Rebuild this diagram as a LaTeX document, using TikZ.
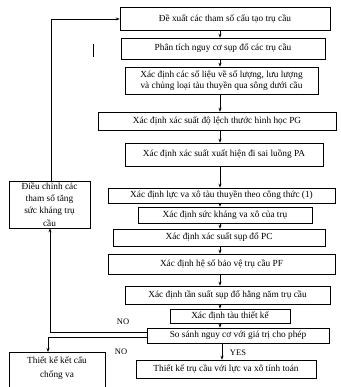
\documentclass[tikz,border=0pt]{standalone}
\usepackage{fontspec}
\setmainfont{Liberation Serif}
\usetikzlibrary{arrows.meta}
\begin{document}
\begin{tikzpicture}[x=1pt,y=-1pt,
  box/.style={draw, line width=0.6pt, inner sep=0pt, font=\fontsize{9.3}{11}\selectfont, align=center},
  lbl/.style={font=\fontsize{8.5}{10}\selectfont, inner sep=0pt},
  arr/.style={-{Stealth[length=4pt,width=3pt]}, line width=0.6pt},
  ln/.style={line width=0.6pt}]
\useasboundingbox (0,0) rectangle (340,387);
\coordinate (sp) at (220,0);
% main column
\node[box, minimum width=210pt, minimum height=23pt] (b1) at (225,18.5) {Đề xuất các tham số cấu tạo trụ cầu};
\node[box, minimum width=204pt, minimum height=21pt] (b2) at (223,48.5) {Phân tích nguy cơ sụp đổ các trụ cầu};
\node[box, minimum width=193pt, minimum height=27pt, font=\fontsize{9.3}{11}\selectfont] (b3) at (221.5,80.5) {Xác định các số liệu về số lượng, lưu lượng\\và chủng loại tàu thuyền qua sông dưới cầu};
\node[box, minimum width=238pt, minimum height=18pt] (b4) at (217,121) {Xác định xác suất độ lệch thước hình học PG};
\node[box, minimum width=198pt, minimum height=23pt] (b5) at (224,154.5) {Xác định xác suất xuất hiện đi sai luồng PA};
\node[box, minimum width=227pt, minimum height=15pt] (b6) at (221.5,195.5) {Xác định lực va xô tàu thuyền theo công thức (1)};
\node[box, minimum width=174pt, minimum height=16pt] (b7) at (225,215) {Xác định sức kháng va xô của trụ};
\node[box, minimum width=212pt, minimum height=17pt] (b8) at (219,237.5) {Xác định xác suất sụp đổ PC};
\node[box, minimum width=227pt, minimum height=20pt] (b9) at (221.5,264) {Xác định hệ số bảo vệ trụ cầu PF};
\node[box, minimum width=205pt, minimum height=18pt] (b10) at (227.5,295) {Xác định tần suất sụp đổ hằng năm trụ cầu};
\node[box, minimum width=120pt, minimum height=14pt] (b11) at (230,316) {Xác định tàu thiết kế};
\node[box, minimum width=182pt, minimum height=15pt] (b12) at (238,335.5) {So sánh nguy cơ với giá trị cho phép};
\node[box, minimum width=180pt, minimum height=18pt] (b13) at (226,369) {Thiết kế trụ cầu với lực va xô tính toán};
% left boxes
\node[box, minimum width=81pt, minimum height=47pt, font=\fontsize{9.3}{12.3}\selectfont] (adj) at (49.5,204.5) {Điều chỉnh các\\tham số tăng\\sức kháng trụ\\cầu};
\node[box, minimum width=96pt, minimum height=40pt, anchor=north, font=\fontsize{9.3}{14}\selectfont, text depth=10pt] (des) at (57,352) {Thiết kế kết cấu\\chống va};
% main arrows
\foreach \a/\b in {b1/b2,b2/b3,b3/b4,b4/b5,b5/b6,b6/b7,b7/b8,b8/b9,b9/b10,b10/b11,b11/b12}
  \draw[arr] (\a.south -| sp) -- (\b.north -| sp);
\coordinate (sp2) at (222,0);
\draw[arr] (b12.south -| sp2) -- (b13.north -| sp2);
\node[lbl] (yes) at (238,353) {YES};
% feedback loop to the top
\coordinate (c1) at (51,19);
\draw[arr] (adj.north -| c1) -- (c1) -- (b1.west |- c1);
% NO branches
\coordinate (n1) at (50,332);
\coordinate (n2) at (48,337);
\draw[arr] (b12.west |- n1) -- (n1) -- (adj.south -| n1);
\draw[arr] (b12.west |- n2) -- (n2) -- (des.north -| n2);
\node[lbl] (no1) at (123,322) {NO};
\node[lbl] (no2) at (121,352) {NO};
% stray mark
\coordinate (m1) at (93,44);
\coordinate (m2) at (93,57);
\draw[ln] (m1) -- (m2);
\end{tikzpicture}
\end{document}
